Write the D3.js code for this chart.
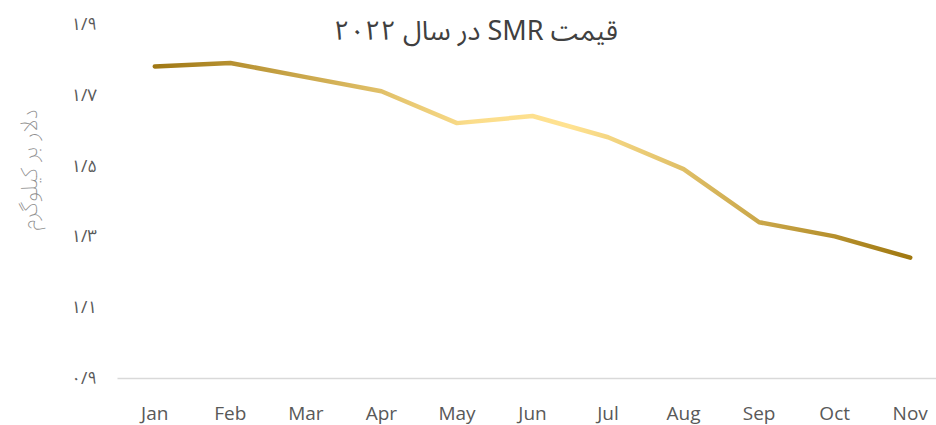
<!DOCTYPE html>
<html>
<head>
<meta charset="utf-8">
<script src="https://cdn.jsdelivr.net/npm/d3@7"></script>
<style>
  body { margin: 0; background: #fff; }
  svg { display: block; }
</style>
</head>
<body>
<div id="chart"><svg width="936" height="425"></svg></div>
<script>
// data
const months = ['Jan', 'Feb', 'Mar', 'Apr', 'May', 'Jun', 'Jul', 'Aug', 'Sep', 'Oct', 'Nov'];
const prices = [1.78, 1.79, 1.75, 1.71, 1.62, 1.64, 1.58, 1.49, 1.34, 1.30, 1.24];
const yTicks = [0.9, 1.1, 1.3, 1.5, 1.7, 1.9];
const title = 'قیمت SMR در سال ۲۰۲۲';
const yTitle = 'دلار بر کیلوگرم';

const svg = d3.select('#chart svg');
const W = 936, H = 425;
const margin = { left: 117, right: -12, top: 24, bottom: 47 };
const faFont = '"Noto Sans Arabic", "Vazirmatn", "DejaVu Sans", sans-serif';

// persian digits, "/" as decimal mark
const faDigits = '۰۱۲۳۴۵۶۷۸۹';
const toFa = s => String(s).replace(/\d/g, d => faDigits[+d]).replace('.', '/');

// scales
const scaleX = d3.scaleBand()
  .domain(months)
  .range([margin.left, W - margin.right]);

const scaleY = d3.scaleLinear()
  .domain([0.9, 1.9])
  .range([H - margin.bottom, margin.top]);

// gradient for the line
const defs = svg.append('defs');
const grad = defs.append('linearGradient')
  .attr('id', 'lineGrad')
  .attr('gradientUnits', 'userSpaceOnUse')
  .attr('x1', scaleX('Jan') + scaleX.bandwidth() / 2)
  .attr('x2', scaleX('Nov') + scaleX.bandwidth() / 2)
  .attr('y1', 0)
  .attr('y2', 0);
grad.append('stop').attr('offset', '0').attr('stop-color', '#A07814');
grad.append('stop').attr('offset', '0.42').attr('stop-color', '#FBDD8B');
grad.append('stop').attr('offset', '0.55').attr('stop-color', '#FFE291');
grad.append('stop').attr('offset', '1').attr('stop-color', '#A07810');

// x axis
const xAxis = svg.append('g')
  .attr('transform', `translate(0,${scaleY(0.9)})`)
  .call(d3.axisBottom(scaleX).tickSize(0).tickPadding(29));
xAxis.select('.domain').attr('stroke', '#d9d9d9').attr('stroke-width', 1.3);
xAxis.selectAll('text')
  .style('font-family', '"Open Sans", sans-serif')
  .style('font-size', '19px')
  .style('fill', '#595959');

// y axis labels (no line)
const yAxis = svg.append('g')
  .attr('transform', 'translate(97,0)')
  .call(d3.axisLeft(scaleY).tickValues(yTicks).tickSize(0).tickPadding(0).tickFormat(toFa));
yAxis.select('.domain').remove();
yAxis.selectAll('text')
  .style('font-family', faFont)
  .style('font-size', '17px')
  .style('letter-spacing', '2px')
  .style('fill', '#595959');

// line
const line = d3.line()
  .x((d, i) => scaleX(months[i]) + scaleX.bandwidth() / 2)
  .y(d => scaleY(d));

svg.append('path')
  .datum(prices)
  .attr('d', line)
  .attr('fill', 'none')
  .attr('stroke', 'url(#lineGrad)')
  .attr('stroke-width', 4.5)
  .attr('stroke-linecap', 'round')
  .attr('stroke-linejoin', 'round');

// title
svg.append('text')
  .text(title)
  .attr('x', 476)
  .attr('y', 40)
  .attr('direction', 'rtl')
  .style('text-anchor', 'middle')
  .style('font-family', faFont)
  .style('font-size', '27px')
  .style('fill', '#404040');

// y title
svg.append('text')
  .text(yTitle)
  .attr('transform', 'translate(37,170) rotate(-90)')
  .attr('direction', 'rtl')
  .style('text-anchor', 'middle')
  .style('font-family', faFont)
  .style('font-size', '23px')
  .style('font-weight', '200')
  .style('fill', '#8c8c8c');
</script>
</body>
</html>
